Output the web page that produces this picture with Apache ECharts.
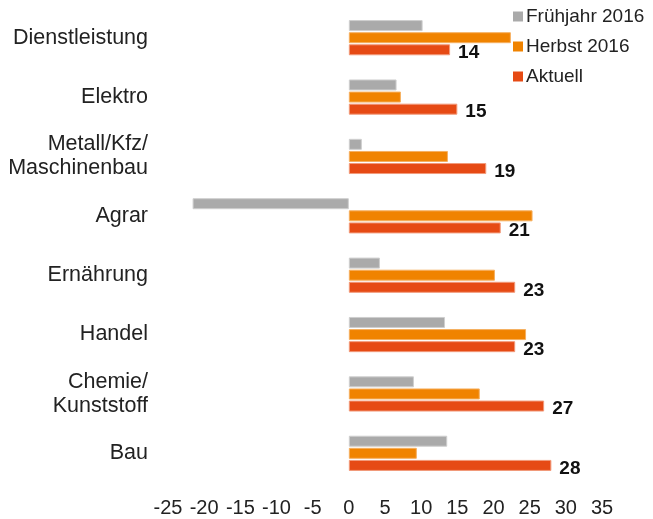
<!DOCTYPE html>
<html>
<head>
<meta charset="utf-8">
<script src="https://cdn.jsdelivr.net/npm/echarts@6/dist/echarts.min.js"></script>
<style>
  html, body { margin: 0; padding: 0; background: #fff; }
  #chart { width: 653px; height: 519px; }
</style>
</head>
<body>
<div id="chart"></div>
<script>
const categories = ['Dienstleistung', 'Elektro', 'Metall/Kfz/\nMaschinenbau', 'Agrar', 'Ernährung', 'Handel', 'Chemie/\nKunststoff', 'Bau']
const fruehjahr = [10.2, 6.6, 1.8, -21.6, 4.3, 13.3, 9, 13.6]
const herbst = [22.4, 7.2, 13.7, 25.4, 20.2, 24.5, 18.1, 9.4]
const aktuell = [14, 15, 19, 21, 23, 23, 27, 28]

const chart = echarts.init(document.getElementById('chart'))

chart.setOption({
  animation: false,
  textStyle: { fontFamily: 'Liberation Sans, Arial, sans-serif' },
  legend: {
    orient: 'vertical',
    left: 508,
    top: 2,
    itemWidth: 10,
    itemHeight: 10,
    itemGap: 11,
    icon: 'rect',
    itemStyle: { borderWidth: 0 },
    textStyle: { fontSize: 19, color: '#222', padding: [0, 0, 0, -2] },
    data: ['Frühjahr 2016', 'Herbst 2016', 'Aktuell']
  },
  grid: {
    left: 168,
    right: 51,
    top: 8,
    bottom: 36,
    containLabel: false
  },
  xAxis: {
    type: 'value',
    min: -25,
    max: 35,
    interval: 5,
    axisLine: { show: false },
    axisTick: { show: false },
    splitLine: { show: false },
    axisLabel: { fontSize: 20, color: '#222', margin: 15 }
  },
  yAxis: {
    type: 'category',
    inverse: true,
    data: categories,
    axisLine: { show: false },
    axisTick: { show: false },
    axisLabel: { fontSize: 21.5, color: '#222', margin: 20, lineHeight: 24, align: 'right' }
  },
  series: [
    {
      name: 'Frühjahr 2016',
      type: 'bar',
      data: fruehjahr,
      barWidth: 11,
      barGap: '10%',
      barCategoryGap: '40%',
      itemStyle: { color: '#aaaaaa', borderColor: '#cfcfcf', borderWidth: 1 }
    },
    {
      name: 'Herbst 2016',
      type: 'bar',
      data: herbst,
      barWidth: 11,
      barGap: '10%',
      itemStyle: { color: '#f08300', borderColor: '#f6b060', borderWidth: 1 }
    },
    {
      name: 'Aktuell',
      type: 'bar',
      data: aktuell,
      barWidth: 11,
      barGap: '10%',
      itemStyle: { color: '#e64a14', borderColor: '#f29a7a', borderWidth: 1 },
      label: {
        show: true,
        position: 'right',
        distance: 8,
        offset: [0, 3],
        fontSize: 19,
        fontWeight: 'bold',
        color: '#111'
      }
    }
  ]
})
</script>
</body>
</html>
